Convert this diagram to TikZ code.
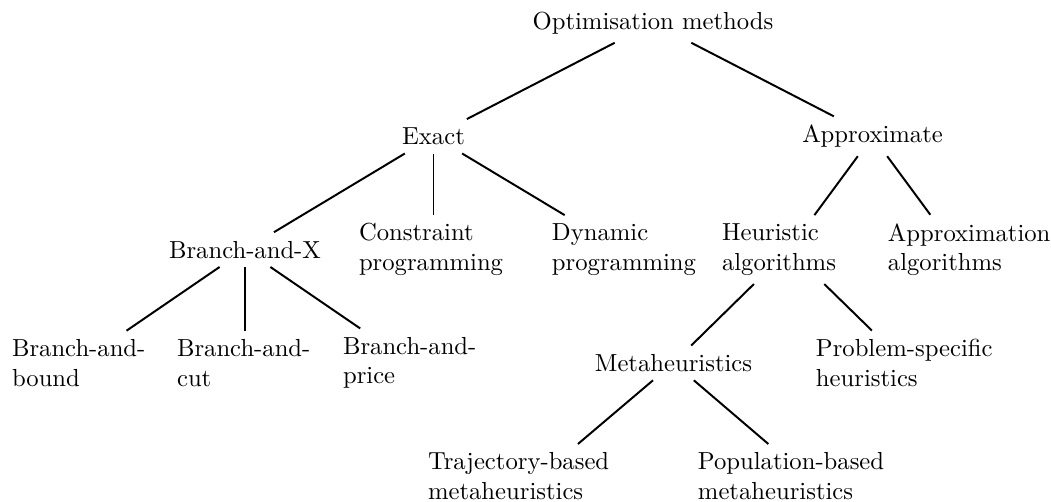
\documentclass[tikz,border=0pt]{standalone}
\hfuzz=\maxdimen
\hbadness=10000
\tikzset{
  lvl/.style={inner sep=3.33pt},
  multi/.style={lvl, align=left, text width=#1},
  branch/.style={line width=0.8pt}
}
\begin{document}
\begin{tikzpicture}[x=0.4055pt, y=-0.4055pt]
\useasboundingbox (0,0) rectangle (1051,502);

% root
\node[lvl] (root) at (653,23) {Optimisation methods};

% first level
\node[lvl] (exact)  at (433.5,136.3) {Exact};
\node[lvl] (approx) at (872.5,136.3) {Approximate};

% second level
\node[lvl] (bx) at (245,249.6) {Branch-and-X};
\node[multi=60.4pt] (cp) at (433.5,249.6) {\mbox{Constraint}\\\mbox{programming}};
\node[multi=56.8pt] (dp) at (622,249.6) {\mbox{Dynamic}\\\mbox{programming}};
\node[multi=54.3pt] (ha) at (789,249.6) {\mbox{Heuristic}\\\mbox{algorithms}};
\node[multi=55.2pt] (aa) at (956,249.6) {\mbox{Approximation}\\\mbox{algorithms}};

% third level
\node[multi=54.7pt] (bb) at (79.5,362.9) {\mbox{Branch-and-}\\\mbox{bound}};
\node[multi=55.1pt] (bc) at (245,362.9) {\mbox{Branch-and-}\\\mbox{cut}};
\node[multi=54.7pt] (bp) at (410.5,362.9) {\mbox{Branch-and-}\\\mbox{price}};
\node[lvl] (mh) at (673.5,362.9) {Metaheuristics};
\node[multi=72.2pt] (ps) at (905,362.9) {\mbox{Problem-specific}\\\mbox{heuristics}};

% fourth level
\node[multi=90.8pt] (tb) at (540,476.2) {\mbox{Trajectory-based}\\\mbox{metaheuristics}};
\node[multi=87.6pt] (pb) at (806,476.2) {\mbox{Population-based}\\\mbox{metaheuristics}};

% connectors
\draw[branch] (root) -- (exact);
\draw[branch] (root) -- (approx);
\draw[branch] (exact) -- (bx);
\draw[branch] (exact) -- (cp);
\draw[branch] (exact) -- (dp);
\draw[branch] (approx) -- (ha);
\draw[branch] (approx) -- (aa);
\draw[branch] (bx) -- (bb);
\draw[branch] (bx) -- (bc);
\draw[branch] (bx) -- (bp);
\draw[branch] (ha) -- (mh);
\draw[branch] (ha) -- (ps);
\draw[branch] (mh) -- (tb);
\draw[branch] (mh) -- (pb);
\end{tikzpicture}
\end{document}
